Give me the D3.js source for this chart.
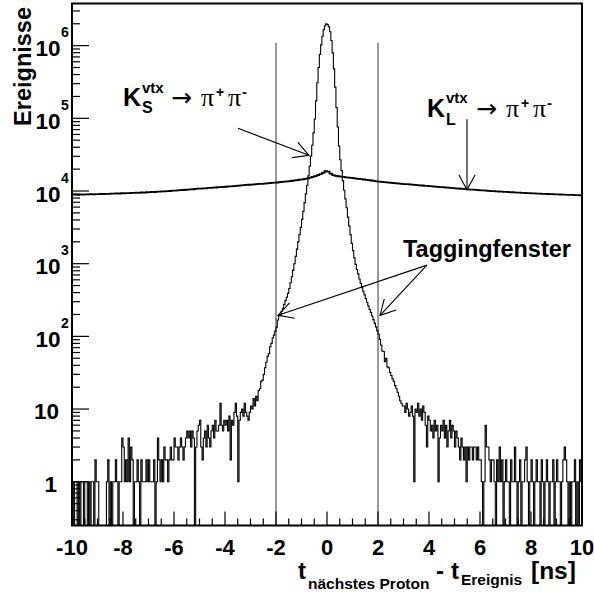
<!DOCTYPE html>
<html>
<head>
<meta charset="utf-8">
<script src="https://cdn.jsdelivr.net/npm/d3@7"></script>
<style>
  body { margin: 0; background: #fff; }
  text { font-family: "Liberation Sans", Arial, Helvetica, sans-serif; font-weight: bold; fill: #000; }
  .sym { font-family: "Liberation Serif", "Times New Roman", serif; font-weight: normal; }
  .arr { font-family: "DejaVu Sans", sans-serif; font-weight: normal; }
</style>
</head>
<body>
<svg id="chart" width="594" height="592"></svg>
<script>
// ---- axis ranges -------------------------------------------------------
const xDomain = [-10, 10];            // t(next proton) - t(event), ns
const yDomain = [0.25, 3.8e6];        // events per bin (log)

// ---- K_S^vtx -> pi+ pi- : 400 bins of 0.05 ns from -10 to 10 ----------
const ksBinStart = -10;
const ksBinWidth = 0.05;
const ksCounts = [
  1,0,1,1,0,1,0,1,1,0, 1,1,0,1,0,1,1,0,2,1,
  1,0,0,0,0,0,0,1,2,0, 1,0,1,1,2,1,0,1,1,4,
  3,1,2,1,4,1,3,2,0,1, 1,2,1,0,2,1,1,1,2,1,
  2,1,1,1,2,0,1,4,2,1, 2,1,3,2,2,1,2,3,2,2,
  4,3,3,2,3,4,3,2,3,4, 5,4,5,3,5,4,0,3,5,6,
  7,3,2,4,5,3,6,4,3,5, 6,4,7,5,5,6,12,6,5,7,
  6,7,5,8,2,7,6,9,12,8, 1,7,9,10,8,12,9,8,7,9,
  11,10,14,11,15,13,18,19,24,25,
  30,37,44,53,58,72,80,95,104,118,
  134,168,192,197,222,243,276,310,345,390,
  455,548,661,810,998,1260,1585,1995,2510,3160,
  4070,5250,6920,9120,12000,16200,21900,30200,42700,63100,
  97700,174000,309000,501000,759000,1023000,1349000,1660000,1862000,1995000,
  1950000,1820000,1550000,1175000,794000,479000,269000,141000,75900,41700,
  26900,19050,13800,10230,7760,5890,4365,3311,2512,1905,
  1514,1202,977,832,724,617,537,468,417,372,
  331,295,263,234,214,191,170,151,135,120,
  107,91,76,63,62,45,50,38,37,32,
  29,26,24,21,19,17,15,13,12,11,
  11,9,12,10,8,9,11,8,1,10, 9,12,8,10,7,11,9,6,3,8,
  7,5,6,4,7,5,6,1,4,6, 5,7,4,6,3,5,7,4,6,5,
  3,5,4,3,2,4,3,2,3,1, 3,2,3,3,2,3,3,2,3,2,
  2,1,0,1,6,3,3,2,1,2, 2,1,0,2,1,3,1,2,0,1,
  2,1,1,0,2,1,1,3,1,0, 1,2,0,1,1,2,3,1,0,1,
  2,1,0,1,2,1,1,0,2,1, 0,1,2,1,0,1,1,2,0,1,
  2,1,1,0,1,2,3,2,1,0, 1,0,1,1,2,0,1,0,2,1
];

// ---- K_L^vtx -> pi+ pi- : 200 bins of 0.1 ns from -10 to 10 -----------
const klBinStart = -10;
const klBinWidth = 0.1;
const klCounts = [
  8900,8950,8880,8990,8930,9010,8970,9060,9000,9080,
  9050,9120,9090,9160,9130,9200,9180,9250,9230,9310,
  9290,9360,9340,9420,9400,9480,9450,9550,9520,9620,
  9640,9700,9690,9790,9780,9880,9870,9980,10000,10120,
  10150,10200,10280,10320,10410,10450,10550,10580,10690,10750,
  10790,10880,10900,11010,11040,11150,11180,11280,11330,11420,
  11450,11560,11610,11700,11780,11850,11950,12020,12110,12200,
  12250,12330,12410,12500,12560,12660,12720,12830,12900,13020,
  13100,13230,13330,13460,13570,13710,13840,13980,14150,14330,
  14500,14700,14950,15250,15600,16000,16500,17100,17800,18700,
  18500,17300,16500,16200,15950,15750,15600,15420,15280,15150,
  15000,14850,14700,14550,14400,14250,14100,13950,13780,13600,
  13450,13360,13220,13150,13020,12950,12830,12760,12640,12560,
  12470,12400,12300,12240,12130,12070,11960,11900,11800,11730,
  11650,11580,11490,11430,11330,11280,11180,11120,11040,10970,
  10880,10830,10740,10700,10610,10560,10480,10430,10350,10300,
  10220,10180,10100,10060,9990,9950,9880,9850,9780,9740,
  9700,9650,9610,9560,9530,9480,9450,9400,9370,9330,
  9290,9260,9220,9190,9160,9130,9100,9070,9040,9010,
  8990,8950,8930,8890,8870,8840,8820,8790,8770,8740
];

// ---- axis ticks -------------------------------------------------------
const xTickLabels = [-10, -8, -6, -4, -2, 0, 2, 4, 6, 8, 10];
const xMinorStep = 0.5;
const yTickPowers = [0, 1, 2, 3, 4, 5, 6];

// ---- tagging window -----------------------------------------------------
const windowEdges = [-2, 2];
const windowTop = 1.1e6;

// ---- annotations (data coordinates) -----------------------------------
const ksLabelAt = [-8.0, 1.5e5];
const ksArrow = { from: [-3.49, 73000], to: [-0.71, 31000] };
const klLabelAt = [3.92, 1.04e5];
const klArrow = { from: [5.49, 97000], to: [5.49, 10400] };
const tagLabelAt = [2.98, 1230];
const tagArrows = [
  { from: [3.92, 955], to: [-1.92, 195] },
  { from: [3.92, 955], to: [2.08, 195] }
];

// ---- frame ----------------------------------------------------------------
const frame = { left: 72, right: 582, top: 3.5, bottom: 525.5 };

const svg = d3.select("#chart");
const x = d3.scaleLinear().domain(xDomain).range([frame.left, frame.right]);
const y = d3.scaleLog().domain(yDomain).range([frame.bottom, frame.top]);

svg.append("defs").append("clipPath").attr("id", "plotArea")
  .append("rect")
  .attr("x", frame.left).attr("y", frame.top)
  .attr("width", frame.right - frame.left)
  .attr("height", frame.bottom - frame.top);

const plot = svg.append("g").attr("clip-path", "url(#plotArea)");

// step outline of a histogram; empty bins fall to the bottom of the frame
function stepPath(counts, start, width) {
  const yOf = c => (c > 0 ? y(c) : frame.bottom + 3);
  let d = "";
  counts.forEach((c, i) => {
    const xa = x(start + i * width), xb = x(start + (i + 1) * width);
    d += (i === 0 ? `M${xa},${yOf(c)}` : `V${yOf(c)}`) + `H${xb}`;
  });
  return d;
}

// tagging window edges
plot.selectAll("line.window").data(windowEdges).join("line")
  .attr("class", "window")
  .attr("x1", d => x(d)).attr("x2", d => x(d))
  .attr("y1", y(windowTop)).attr("y2", frame.bottom)
  .attr("stroke", "#555").attr("stroke-width", 1.2);

// histograms
plot.append("path").attr("d", stepPath(klCounts, klBinStart, klBinWidth))
  .attr("fill", "none").attr("stroke", "#000").attr("stroke-width", 1.8);
plot.append("path").attr("d", stepPath(ksCounts, ksBinStart, ksBinWidth))
  .attr("fill", "none").attr("stroke", "#000").attr("stroke-width", 1.1);

// frame box
svg.append("rect")
  .attr("x", frame.left).attr("y", frame.top)
  .attr("width", frame.right - frame.left)
  .attr("height", frame.bottom - frame.top)
  .attr("fill", "none").attr("stroke", "#000").attr("stroke-width", 2);

// ---- x axis ticks (inside, pointing up) -----------------------------------
const xMinor = d3.range(xDomain[0], xDomain[1] + 1e-9, xMinorStep);
svg.append("g").selectAll("line").data(xMinor).join("line")
  .attr("x1", d => x(d)).attr("x2", d => x(d))
  .attr("y1", frame.bottom)
  .attr("y2", d => frame.bottom - (xTickLabels.some(t => Math.abs(t - d) < 1e-9) ? 14 : 7))
  .attr("stroke", "#000").attr("stroke-width", 1.2);

svg.append("g").selectAll("text").data(xTickLabels).join("text")
  .attr("x", d => x(d)).attr("y", 555)
  .attr("text-anchor", "middle")
  .attr("font-size", 22)
  .text(d => d);

// ---- y axis ticks (inside, pointing right) --------------------------------
const yMinor = [];
for (let p = -1; p <= 6; p++) {
  for (let m = 1; m <= 9; m++) {
    const v = m * Math.pow(10, p);
    if (v >= yDomain[0] && v <= yDomain[1]) yMinor.push({ v, major: m === 1 });
  }
}
svg.append("g").selectAll("line").data(yMinor).join("line")
  .attr("x1", frame.left).attr("x2", d => frame.left + (d.major ? 17 : 8))
  .attr("y1", d => y(d.v)).attr("y2", d => y(d.v))
  .attr("stroke", "#000").attr("stroke-width", 1.2);

const yLab = svg.append("g");
yTickPowers.forEach(p => {
  const ty = y(Math.pow(10, p));
  if (p === 0) {
    yLab.append("text").attr("x", 57).attr("y", ty + 10)
      .attr("text-anchor", "end").attr("font-size", 22.5).text("1");
  } else if (p === 1) {
    yLab.append("text").attr("x", 59).attr("y", ty + 10)
      .attr("text-anchor", "end").attr("font-size", 22.5).text("10");
  } else {
    yLab.append("text").attr("x", 60.5).attr("y", ty + 10.5)
      .attr("text-anchor", "end").attr("font-size", 22.5).text("10");
    yLab.append("text").attr("x", 61).attr("y", ty - 8.5)
      .attr("font-size", 14).text(p);
  }
});

// ---- axis titles -----------------------------------------------------------
svg.append("text")
  .attr("transform", "translate(31,7) rotate(-90)")
  .attr("text-anchor", "end").attr("font-size", 23.5)
  .text("Ereignisse");

const xt = svg.append("g");
xt.append("text").attr("x", 298).attr("y", 579).attr("font-size", 24).text("t");
xt.append("text").attr("x", 308).attr("y", 588.5).attr("font-size", 15.5).text("nächstes Proton");
xt.append("text").attr("x", 436).attr("y", 579).attr("font-size", 24).text("-");
xt.append("text").attr("x", 451).attr("y", 579).attr("font-size", 24).text("t");
xt.append("text").attr("x", 461).attr("y", 585).attr("font-size", 15.5).text("Ereignis");
xt.append("text").attr("x", 531).attr("y", 579).attr("font-size", 24.5).text("[ns]");

// ---- annotations -------------------------------------------------------------
function arrow(a) {
  const x1 = x(a.from[0]), y1 = y(a.from[1]);
  const x2 = x(a.to[0]), y2 = y(a.to[1]);
  const ang = Math.atan2(y2 - y1, x2 - x1);
  const len = 17, spread = 0.5;
  const g = svg.append("g").attr("stroke", "#000").attr("stroke-width", 1.1).attr("fill", "none");
  g.append("line").attr("x1", x1).attr("y1", y1).attr("x2", x2).attr("y2", y2);
  g.append("polyline").attr("points", [
    [x2 - len * Math.cos(ang - spread), y2 - len * Math.sin(ang - spread)],
    [x2, y2],
    [x2 - len * Math.cos(ang + spread), y2 - len * Math.sin(ang + spread)]
  ].map(p => p.join(",")).join(" "));
}

function kaonLabel(at, sub, offs) {
  const gx = x(at[0]), gy = y(at[1]);
  const g = svg.append("g").attr("transform", `translate(${gx},${gy})`);
  g.append("text").attr("x", 0).attr("y", 0).attr("font-size", 25).text("K");
  g.append("text").attr("x", 19).attr("y", offs.sup).attr("font-size", 15).text("vtx");
  g.append("text").attr("x", 19).attr("y", offs.sub).attr("font-size", 16).text(sub);
  g.append("text").attr("class", "arr").attr("x", offs.arrow).attr("y", 0).attr("font-size", 25).text("→");
  g.append("text").attr("class", "sym").attr("x", offs.arrow + 30).attr("y", 0).attr("font-size", 26).text("π");
  g.append("text").attr("x", offs.arrow + 45).attr("y", -9).attr("font-size", 14).text("+");
  g.append("text").attr("class", "sym").attr("x", offs.arrow + 57).attr("y", 0).attr("font-size", 26).text("π");
  g.append("text").attr("x", offs.arrow + 71).attr("y", -9).attr("font-size", 15).text("-");
}

kaonLabel(ksLabelAt, "S", { sup: -13, sub: 7, arrow: 48 });
kaonLabel(klLabelAt, "L", { sup: -14, sub: 8, arrow: 49 });
arrow(ksArrow);
arrow(klArrow);

svg.append("text").attr("x", x(tagLabelAt[0])).attr("y", y(tagLabelAt[1]))
  .attr("font-size", 23.5).text("Taggingfenster");
tagArrows.forEach(arrow);
</script>
</body>
</html>
